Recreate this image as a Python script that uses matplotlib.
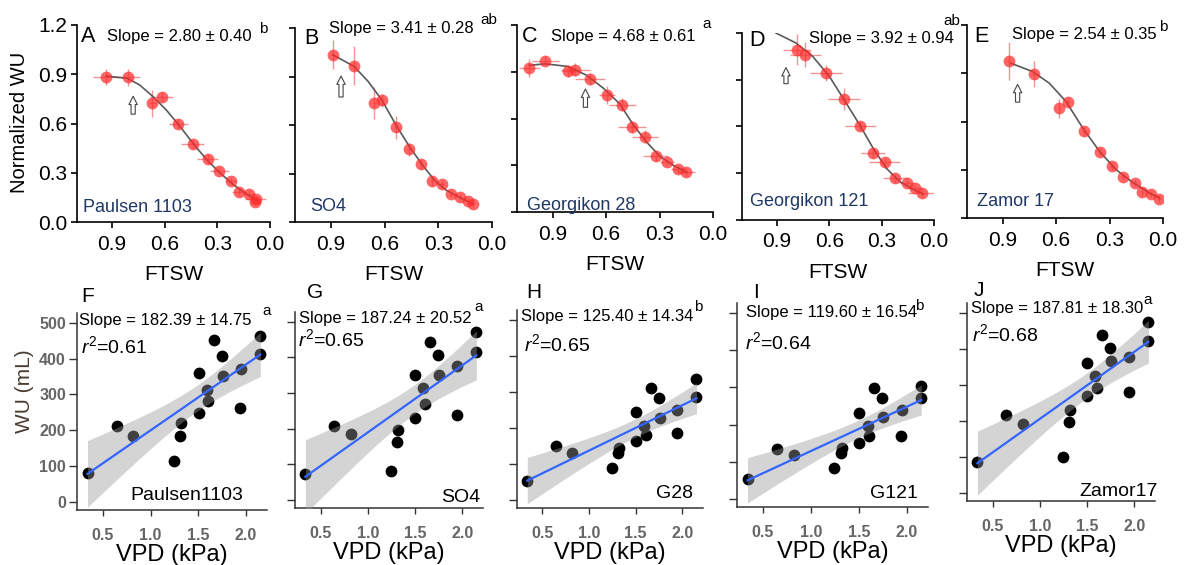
import numpy as np
import matplotlib.pyplot as plt

plt.rcParams['font.family'] = ['Liberation Sans', 'DejaVu Sans']
plt.rcParams['mathtext.fontset'] = 'custom'
plt.rcParams['mathtext.rm'] = 'Liberation Sans'
plt.rcParams['mathtext.it'] = 'Liberation Sans:italic'

# ---- top row: normalized WU vs FTSW ----
top_letters = ['A', 'B', 'C', 'D', 'E']
top_names = ['Paulsen 1103', 'SO4', 'Georgikon 28', 'Georgikon 121', 'Zamor 17']
top_slopes = ['Slope = 2.80 \u00b1 0.40', 'Slope = 3.41 \u00b1 0.28', 'Slope = 4.68 \u00b1 0.61',
              'Slope = 3.92 \u00b1 0.94', 'Slope = 2.54 \u00b1 0.35']
top_groups = ['b', 'ab', 'a', 'ab', 'b']

ftsw_pts = [
    [0.936, 0.812, 0.670, 0.618, 0.523, 0.441, 0.356, 0.289, 0.223, 0.175, 0.118, 0.080, 0.086],
    [0.890, 0.771, 0.657, 0.616, 0.536, 0.461, 0.394, 0.337, 0.280, 0.231, 0.180, 0.133, 0.108],
    [1.031, 0.942, 0.815, 0.772, 0.689, 0.595, 0.508, 0.454, 0.382, 0.322, 0.260, 0.194, 0.153],
    [0.787, 0.737, 0.618, 0.516, 0.422, 0.349, 0.282, 0.221, 0.157, 0.109, 0.071],
    [0.866, 0.726, 0.581, 0.534, 0.444, 0.351, 0.285, 0.225, 0.159, 0.116, 0.069, 0.023],
]
nwu_pts = [
    [0.885, 0.881, 0.722, 0.759, 0.600, 0.478, 0.386, 0.311, 0.250, 0.183, 0.173, 0.138, 0.122],
    [1.035, 0.967, 0.735, 0.752, 0.586, 0.449, 0.358, 0.255, 0.232, 0.172, 0.155, 0.130, 0.114],
    [0.924, 0.971, 0.906, 0.914, 0.852, 0.750, 0.689, 0.545, 0.484, 0.357, 0.320, 0.275, 0.254],
    [1.093, 1.061, 0.943, 0.776, 0.600, 0.429, 0.371, 0.268, 0.236, 0.204, 0.176],
    [0.977, 0.896, 0.683, 0.724, 0.538, 0.410, 0.321, 0.254, 0.217, 0.159, 0.149, 0.120],
]
ftsw_err = [
    [0.07, 0.07, 0.02, 0.067, 0.055, 0.065, 0.06, 0.055, 0.03, 0.04, 0.03, 0.06, 0.03],
    [0.01, 0.01, 0.01, 0.01, 0.01, 0.01, 0.01, 0.01, 0.01, 0.01, 0.01, 0.01, 0.01],
    [0.06, 0.075, 0.03, 0.08, 0.085, 0.045, 0.075, 0.08, 0.075, 0.07, 0.04, 0.04, 0.05],
    [0.08, 0.09, 0.09, 0.09, 0.09, 0.07, 0.09, 0.07, 0.04, 0.04, 0.08],
    [0.01, 0.01, 0.01, 0.01, 0.01, 0.01, 0.01, 0.01, 0.01, 0.01, 0.01, 0.01],
]
nwu_err = [
    [0.05, 0.05, 0.08, 0.03, 0.03, 0.03, 0.03, 0.02, 0.02, 0.02, 0.02, 0.02, 0.02],
    [0.09, 0.12, 0.10, 0.04, 0.07, 0.04, 0.03, 0.03, 0.02, 0.02, 0.02, 0.02, 0.02],
    [0.06, 0.03, 0.04, 0.04, 0.04, 0.06, 0.04, 0.04, 0.04, 0.03, 0.02, 0.02, 0.02],
    [0.10, 0.08, 0.05, 0.07, 0.03, 0.03, 0.03, 0.03, 0.02, 0.02, 0.02],
    [0.12, 0.08, 0.06, 0.03, 0.03, 0.02, 0.02, 0.02, 0.02, 0.02, 0.02, 0.02],
]
curve_ftsw = [
    [0.932, 0.812, 0.742, 0.666, 0.590, 0.514, 0.438, 0.361, 0.285, 0.209, 0.133, 0.070],
    [0.890, 0.771, 0.692, 0.616, 0.536, 0.461, 0.388, 0.322, 0.256, 0.180, 0.104],
    [1.031, 0.942, 0.815, 0.712, 0.618, 0.524, 0.448, 0.373, 0.297, 0.222, 0.147],
    [0.906, 0.791, 0.695, 0.599, 0.503, 0.426, 0.349, 0.273, 0.196, 0.119, 0.061],
    [0.853, 0.731, 0.638, 0.544, 0.450, 0.356, 0.263, 0.169, 0.075, 0.019],
]
curve_nwu = [
    [0.889, 0.875, 0.834, 0.763, 0.681, 0.584, 0.478, 0.380, 0.299, 0.228, 0.169, 0.128],
    [1.035, 0.963, 0.870, 0.756, 0.600, 0.466, 0.352, 0.259, 0.197, 0.151, 0.110],
    [0.941, 0.951, 0.934, 0.879, 0.797, 0.695, 0.561, 0.449, 0.357, 0.299, 0.254],
    [1.200, 1.136, 1.050, 0.921, 0.750, 0.611, 0.461, 0.332, 0.246, 0.197, 0.167],
    [0.962, 0.910, 0.838, 0.724, 0.559, 0.414, 0.300, 0.221, 0.155, 0.124],
]
arrow_ftsw = [0.78, 0.843, 0.716, 0.848, 0.816]
arrow_tail = [0.64, 0.756, 0.654, 0.857, 0.703]
arrow_head = [0.783, 0.92, 0.807, 0.996, 0.848]

# ---- bottom row: WU vs VPD ----
bot_letters = ['F', 'G', 'H', 'I', 'J']
bot_names = ['Paulsen1103', 'SO4', 'G28', 'G121', 'Zamor17']
bot_slopes = ['Slope = 182.39 \u00b1 14.75', 'Slope = 187.24 \u00b1 20.52', 'Slope = 125.40 \u00b1 14.34',
              'Slope = 119.60 \u00b1 16.54', 'Slope = 187.81 \u00b1 18.30']
bot_groups = ['a', 'a', 'b', 'b', 'a']
bot_r2 = ['0.61', '0.65', '0.65', '0.64', '0.68']

vpd = [0.34, 0.645, 0.82, 1.245, 1.32, 1.31, 1.505, 1.505, 1.59, 1.605,
       1.66, 1.745, 1.755, 1.94, 1.945, 2.15, 2.15]
wu = [
    [80, 211, 183, 114, 220, 183, 248, 359, 313, 281, 452, 407, 352, 262, 370, 463, 413],
    [74, 208, 184, 83, 197, 163, 231, 351, 314, 269, 442, 406, 350, 239, 375, 470, 415],
    [53, 150, 131, 90, 145, 130, 164, 245, 204, 181, 310, 282, 227, 185, 250, 335, 287],
    [53, 133, 119, 83, 138, 124, 151, 231, 195, 170, 298, 271, 220, 170, 239, 303, 271],
    [87, 216, 191, 101, 231, 196, 268, 360, 325, 292, 437, 401, 366, 280, 378, 474, 422],
]

W, H = 1184, 565
fig = plt.figure(figsize=(W / 100, H / 100), dpi=100)


def box(l, r, t, b):
    return [l / W, 1 - b / H, (r - l) / W, (b - t) / H]


def put(x, y, s, **kw):
    kw.setdefault('va', 'center')
    kw.setdefault('ha', 'left')
    fig.text(x / W, 1 - y / H, s, **kw)


top_boxes = [(77, 270, 25, 222), (295, 492, 28, 222), (517, 713, 25, 212),
             (742, 934, 33, 220), (967, 1163, 25, 218)]
top_ylow = [0, 0, 0.06, 0, 0]
letter_xy = [(81, 36), (304, 38), (522, 36), (749, 40), (974, 37)]
slope_xy = [(107, 36), (329, 29), (551, 37), (809, 39), (1012, 34)]
group_xy = [(259, 29), (480, 20), (702, 24), (943, 21), (1159, 27)]
name_xy = [(83, 207), (310, 206), (527, 205), (750, 202), (977, 202)]

for i in range(5):
    ax = fig.add_axes(box(*top_boxes[i]))
    ax.errorbar(ftsw_pts[i], nwu_pts[i], xerr=ftsw_err[i], yerr=nwu_err[i], fmt='none',
                ecolor='#f27a7a', elinewidth=1, alpha=0.8, zorder=1)
    ax.plot(curve_ftsw[i], curve_nwu[i], color='#5a5a5a', lw=1.2, zorder=2)
    ax.plot(ftsw_pts[i], nwu_pts[i], 'o', ms=8.5, color='#ff2a2a', alpha=0.72, mec='none', zorder=3)
    ax.annotate('', xy=(arrow_ftsw[i], arrow_head[i]), xytext=(arrow_ftsw[i], arrow_tail[i]),
                arrowprops=dict(arrowstyle='simple,head_width=0.6,head_length=0.6,tail_width=0.3',
                                mutation_scale=10, fc='white', ec='#444444', lw=0.8))
    ax.set_xlim(1.1, 0)
    ax.set_ylim(top_ylow[i], 1.2)
    ax.set_xticks([0.9, 0.6, 0.3, 0.0])
    ax.set_yticks([0, 0.3, 0.6, 0.9, 1.2])
    ax.xaxis.set_major_formatter(plt.FormatStrFormatter('%.1f'))
    ax.yaxis.set_major_formatter(plt.FormatStrFormatter('%.1f'))
    for s in ['top', 'right']:
        ax.spines[s].set_visible(False)
    for s in ['left', 'bottom']:
        ax.spines[s].set_linewidth(1.2)
    ax.tick_params(direction='out', length=4, width=1.2, labelsize=15)
    ax.tick_params(axis='x', pad=5)
    ax.tick_params(axis='y', pad=3)
    if i > 0:
        ax.tick_params(axis='y', labelleft=False)
    ax.set_xlabel('FTSW', fontsize=15, labelpad=8)
    ax.patch.set_alpha(0)

    put(*letter_xy[i], top_letters[i], fontsize=15.5)
    put(*slope_xy[i], top_slopes[i], fontsize=12)
    put(*group_xy[i], top_groups[i], fontsize=11)
    put(*name_xy[i], top_names[i], fontsize=13, color='#1f3864')

put(20, 122, 'Normalized WU', fontsize=14.5, rotation=90, ha='center')

bot_boxes = [(77, 267, 313, 510), (295, 483, 312, 508), (517, 703, 310, 508),
             (737, 928, 303, 507), (967, 1155, 303, 501)]
bl_xy = [(81, 297), (307, 293), (526, 292), (753, 292), (974, 290)]
bs_xy = [(79, 321), (299, 318), (521, 317), (746, 313), (971, 308)]
bg_xy = [(262, 311), (474, 307), (694, 307), (915, 306), (1143, 300)]
br_xy = [(81, 346), (298, 339), (524, 344), (745, 342), (972, 334)]
bn_xy = [(243, 496), (480, 497), (693, 493), (918, 493), (1158, 491)]
t_crit = 2.131  # t(0.975, df=15)

for i in range(5):
    ax = fig.add_axes(box(*bot_boxes[i]))
    x = np.array(vpd)
    y = np.array(wu[i], dtype=float)
    ax.scatter(x, y, s=72, color='black', lw=0, zorder=2)
    b1, b0 = np.polyfit(x, y, 1)
    xs = np.linspace(x.min(), x.max(), 60)
    yfit = b0 + b1 * xs
    n = len(x)
    resid = y - (b0 + b1 * x)
    sd = np.sqrt(np.sum(resid ** 2) / (n - 2))
    se = sd * np.sqrt(1 / n + (xs - x.mean()) ** 2 / np.sum((x - x.mean()) ** 2))
    ax.fill_between(xs, yfit - t_crit * se, yfit + t_crit * se, color='#999999', alpha=0.42,
                    lw=0, zorder=3)
    ax.plot(xs, yfit, color='#3366ff', lw=1.6, zorder=4)
    ax.set_xlim(0.23, 2.22)
    ax.set_ylim(-22, 527)
    ax.set_xticks([0.5, 1.0, 1.5, 2.0])
    ax.set_yticks([0, 100, 200, 300, 400, 500])
    for s in ['top', 'right']:
        ax.spines[s].set_visible(False)
    for s in ['left', 'bottom']:
        ax.spines[s].set_color('#333333')
        ax.spines[s].set_linewidth(1.1)
    ax.tick_params(direction='out', width=1, color='#333333', labelcolor='#666666')
    ax.tick_params(axis='x', labelsize=11.5, length=4, pad=9)
    ax.tick_params(axis='y', labelsize=11.5, length=6, pad=2)
    for lab in ax.get_xticklabels() + ax.get_yticklabels():
        lab.set_fontweight('bold')
    if i > 0:
        ax.tick_params(axis='y', labelleft=False)
    ax.set_xlabel('VPD (kPa)', fontsize=17, labelpad=1)
    ax.patch.set_alpha(0)

    put(*bl_xy[i], bot_letters[i], fontsize=15)
    put(*bs_xy[i], bot_slopes[i], fontsize=12)
    put(*bg_xy[i], bot_groups[i], fontsize=11)
    put(*br_xy[i], r'$\mathit{r}^{2}$=' + bot_r2[i], fontsize=14)
    put(*bn_xy[i], bot_names[i], fontsize=14, ha='right')

put(24, 391, 'WU (mL)', fontsize=15, rotation=90, ha='center', color='#4a3c30')

fig.savefig('out.png', dpi=100)
